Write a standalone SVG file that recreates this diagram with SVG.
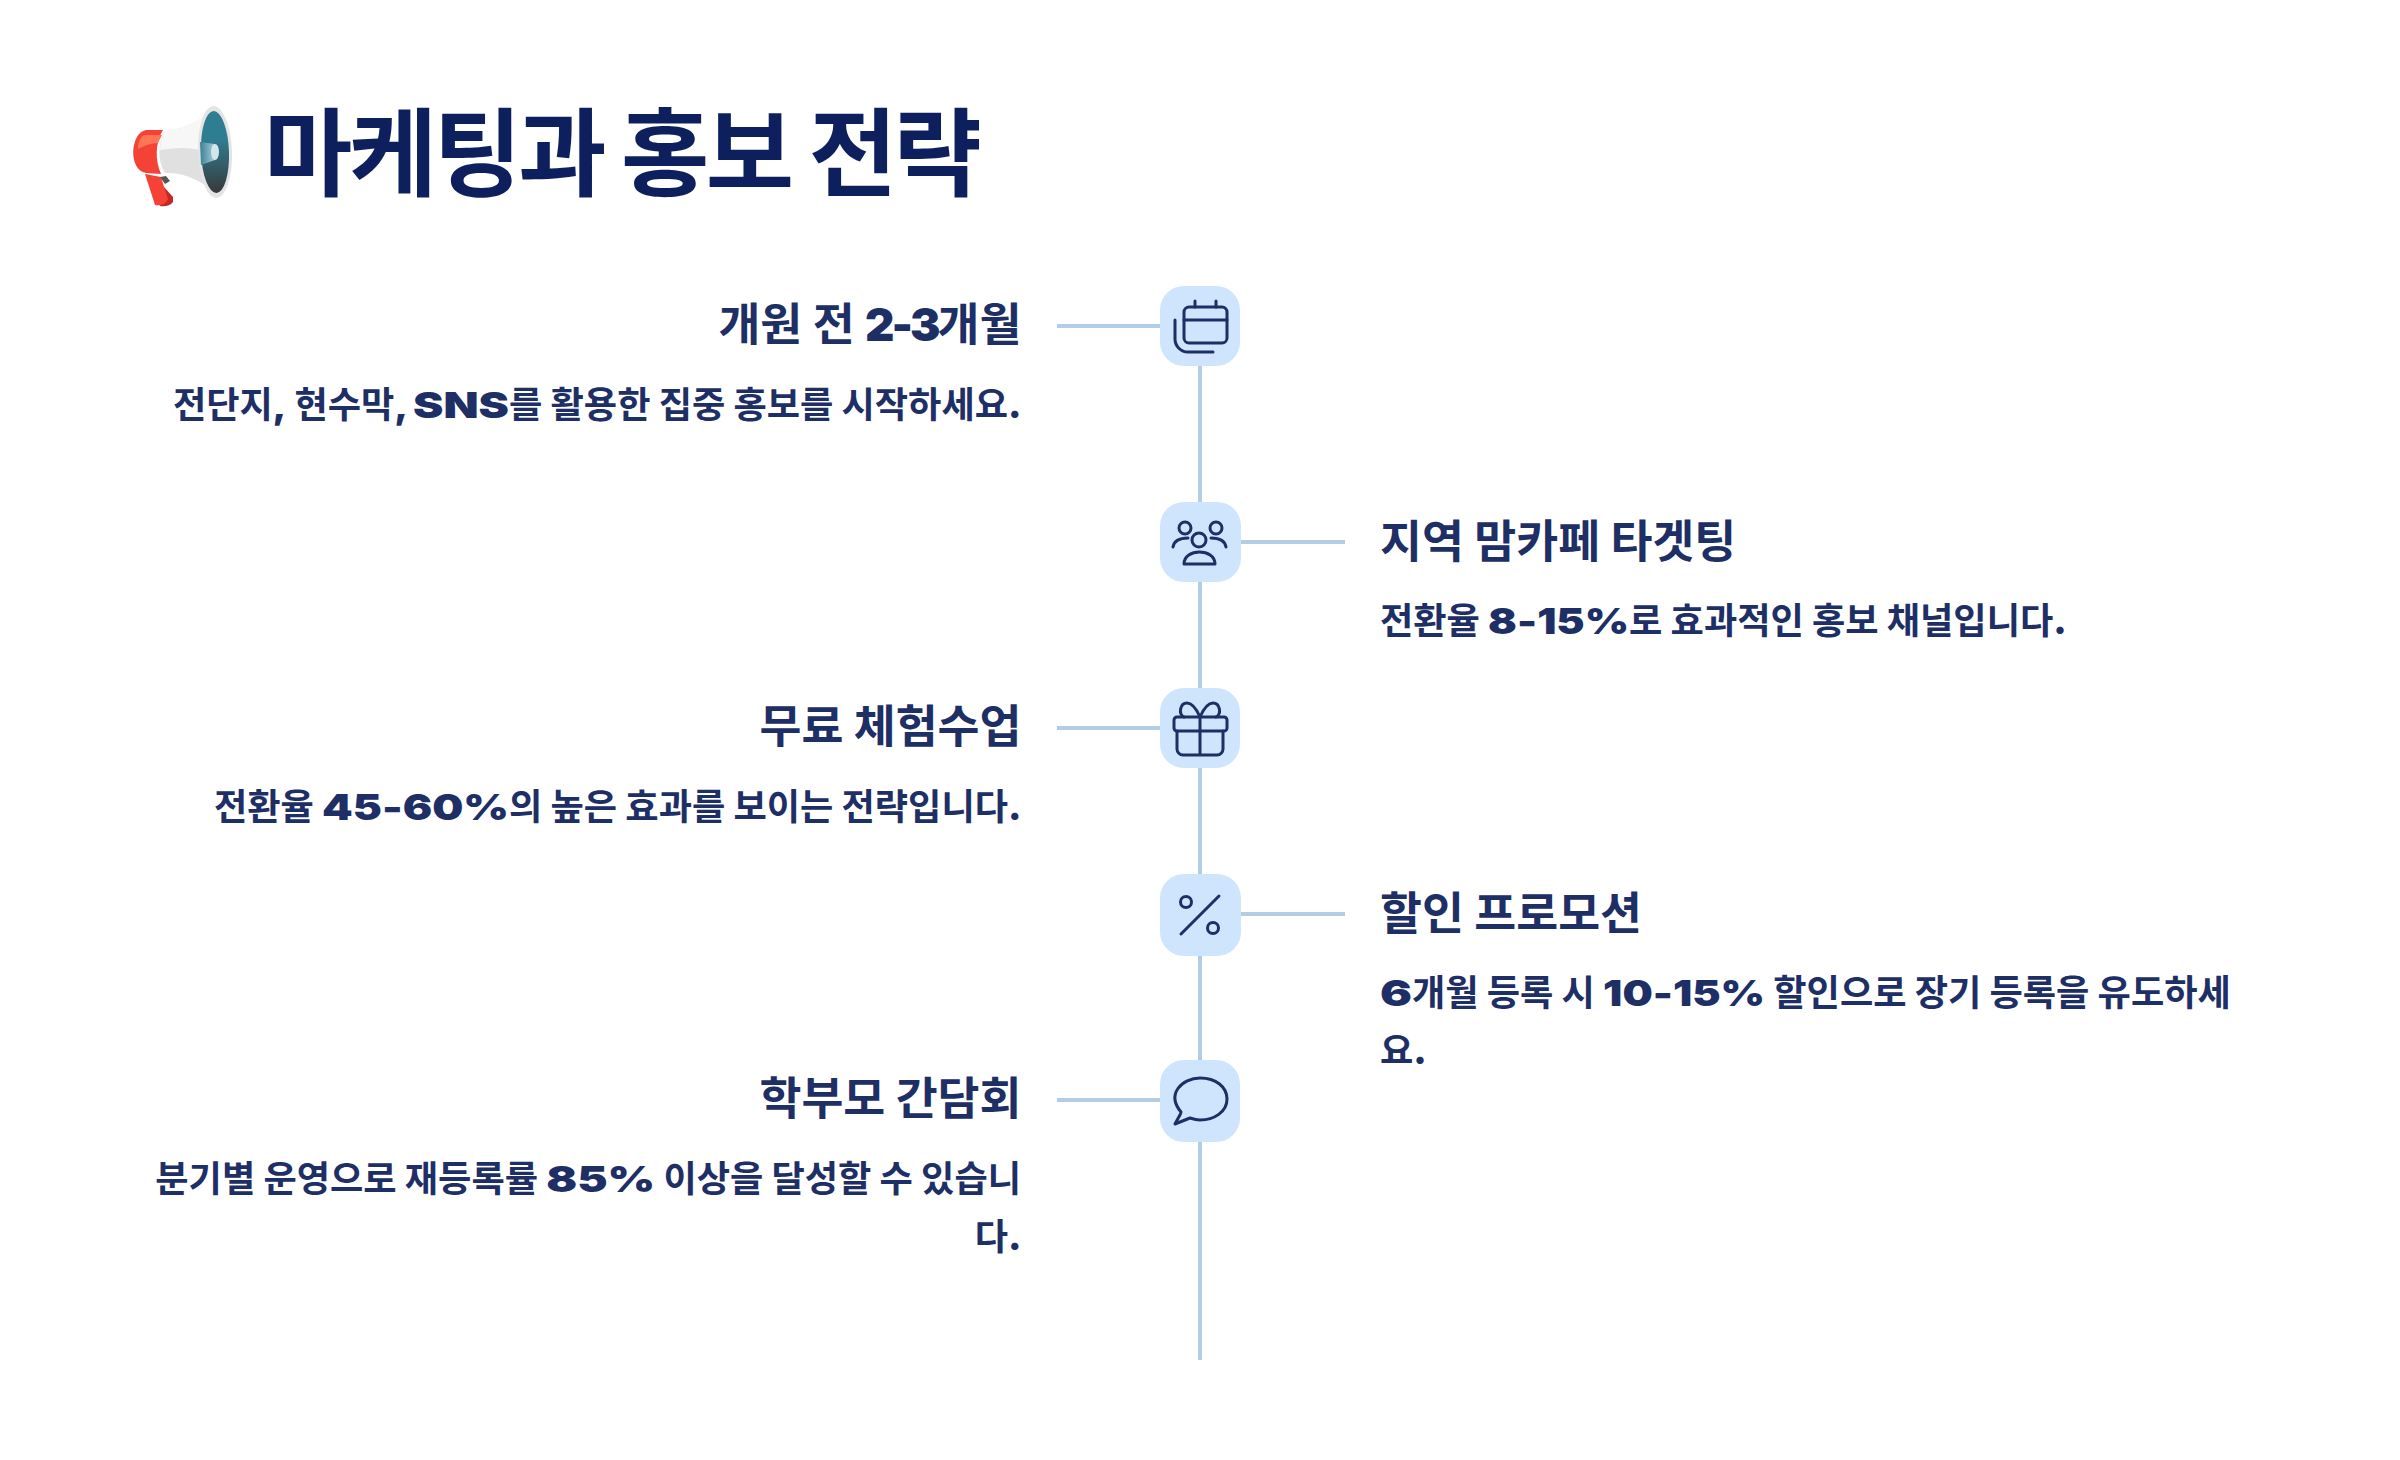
<svg xmlns="http://www.w3.org/2000/svg" width="2400" height="1460" viewBox="0 0 2400 1460">
<defs>
<style>
text{font-family:"Noto Sans CJK KR","Noto Sans",sans-serif;font-weight:700;fill:#1e2f66}
.t{font-size:96px;fill:#0d1f5c;letter-spacing:-3.6px}
.h{font-size:45.6px}
.b{font-size:36.2px}
.e{text-anchor:end}
.l{font-family:"Inter","Liberation Sans",sans-serif;font-weight:900}
.c{fill:none;stroke:#b3cde6;stroke-width:4}
.n{fill:#cfe5fd}
.i{fill:none;stroke:#1e2f66;stroke-width:3;stroke-linecap:round;stroke-linejoin:round}
</style>
<linearGradient id="tl" x1="0" y1="0" x2="0" y2="1"><stop offset="0.35" stop-color="#2f7d91"/><stop offset="1" stop-color="#37393b"/></linearGradient>
<linearGradient id="bm" x1="1" y1="0" x2="0" y2="0"><stop offset="0" stop-color="#a8cdd9"/><stop offset="1" stop-color="#3b8296"/></linearGradient>
</defs>
<rect width="2400" height="1460" fill="#fff"/>
<g id="title">
<g id="megaphone">
<path d="M156 186 L164 187 L173 197 L173 202 C170 206 165 207 160 206 Z" fill="#c62828"/>
<path d="M145 174 L161 177 L164 187 L168 199 C165 205 160 206 155 205 Z" fill="#f44336"/>
<path d="M160 177 L166 176 L170 181 L165 184 Z" fill="#555"/>
<path d="M165 131 C180 130 192 124 205 116 L210 188 C195 178 180 172 165 173 C157 160 158 143 165 131Z" fill="#e0e0e0"/>
<path d="M165 131 C180 130 192 124 205 116 L206 152 C190 146 175 148 160 150 C160 143 162 137 165 131Z" fill="#f7f7f7"/>
<path d="M163 130 L146 130 C130 133 128 170 146 173 L161 174 C155 160 155 143 163 130Z" fill="#f44336"/>
<path d="M162 135 L144 135 C139 139 138 144 138 149 C145 145 152 143 158 143 Z" fill="#ff7555"/>
<ellipse cx="215" cy="152" rx="17" ry="46" fill="#e4e4e4" transform="rotate(-2 215 152)"/>
<ellipse cx="215" cy="152" rx="14" ry="41" fill="url(#tl)" transform="rotate(-2 215 152)"/>
<path d="M200 142 L215 144 L215 160 L201 165Z" fill="url(#bm)"/>
<ellipse cx="215" cy="152" rx="4" ry="8" fill="#d3e6ec"/>
</g>
<text class="t" x="264" y="188">마케팅과 홍보 전략</text>
</g>
<g id="connectors">
<line class="c" x1="1200" y1="326" x2="1200" y2="1360"/>
<line class="c" x1="1057" y1="326" x2="1200" y2="326"/>
<line class="c" x1="1200" y1="542" x2="1345" y2="542"/>
<line class="c" x1="1057" y1="728" x2="1200" y2="728"/>
<line class="c" x1="1200" y1="914" x2="1345" y2="914"/>
<line class="c" x1="1057" y1="1100" x2="1200" y2="1100"/>
</g>
<g id="node-1">
<rect class="n" x="1160" y="286" width="80" height="80" rx="24"/>
<rect class="i" x="1184" y="307" width="43" height="36" rx="5"/>
<path class="i" d="M1184 320H1227M1195 301V307M1216 301V307M1175 320V339A13 13 0 0 0 1188 352H1213"/>
<text class="h e" x="1021.5" y="341">개원 전 <tspan class="l" letter-spacing="-3">2-3</tspan>개월</text>
<text class="b e" x="1021.5" y="418">전단지<tspan class="l">,</tspan> 현수막<tspan class="l">, </tspan><tspan class="l" textLength="96" lengthAdjust="spacingAndGlyphs">SNS</tspan>를 활용한 집중 홍보를 시작하세요<tspan class="l">.</tspan></text>
</g>
<g id="node-2">
<rect class="n" x="1160" y="502" width="81" height="80" rx="24"/>
<circle class="i" cx="1199" cy="540" r="7"/><circle class="i" cx="1185" cy="528" r="6"/><circle class="i" cx="1216" cy="528" r="6"/>
<path class="i" d="M1184 564C1184 548 1215 548 1215 564Z"/>
<path class="i" d="M1173 547C1174 541 1180 538 1188 538M1226 547C1225 541 1219 538 1211 538"/>
<text class="h" x="1380" y="558">지역 맘카페 타겟팅</text>
<text class="b" x="1380" y="634">전환율 <tspan class="l" textLength="141" lengthAdjust="spacingAndGlyphs">8-15%</tspan>로 효과적인 홍보 채널입니다<tspan class="l">.</tspan></text>
</g>
<g id="node-3">
<rect class="n" x="1160" y="688" width="80" height="80" rx="24"/>
<rect class="i" x="1174" y="717" width="53" height="14" rx="3"/>
<path class="i" d="M1177 731V749A6 6 0 0 0 1183 755H1217A6 6 0 0 0 1223 749V731M1200 717V755"/>
<path class="i" d="M1200 717C1196 708 1191 703 1187 703C1180 703 1178 714 1184 717M1200 717C1204 708 1209 703 1213 703C1220 703 1222 714 1216 717"/>
<text class="h e" x="1021.5" y="743">무료 체험수업</text>
<text class="b e" x="1021.5" y="820">전환율 <tspan class="l" textLength="187" lengthAdjust="spacingAndGlyphs">45-60%</tspan>의 높은 효과를 보이는 전략입니다<tspan class="l">.</tspan></text>
</g>
<g id="node-4">
<rect class="n" x="1160" y="874" width="81" height="82" rx="24"/>
<path class="i" d="M1219 896L1181 934"/><circle class="i" cx="1186" cy="902" r="5.5"/><circle class="i" cx="1213" cy="928" r="5.5"/>
<text class="h" x="1380" y="930">할인 프로모션</text>
<text class="b" x="1380" y="1006"><tspan class="l" textLength="32" lengthAdjust="spacingAndGlyphs">6</tspan>개월 등록 시 <tspan class="l" textLength="162" lengthAdjust="spacingAndGlyphs">10-15%</tspan> 할인으로 장기 등록을 유도하세</text>
<text class="b" x="1380" y="1064">요<tspan class="l">.</tspan></text>
</g>
<g id="node-5">
<rect class="n" x="1160" y="1060" width="80" height="82" rx="24"/>
<path class="i" d="M1190 1118L1175 1124C1178 1118 1181 1114 1181 1112C1166 1094 1182 1078 1200 1078C1216 1078 1227 1087 1227 1099C1227 1112 1214 1120 1200 1120C1196 1120 1193 1119 1190 1118Z"/>
<text class="h e" x="1021.5" y="1115">학부모 간담회</text>
<text class="b e" x="1021" y="1192">분기별 운영으로 재등록률 <tspan class="l" textLength="109" lengthAdjust="spacingAndGlyphs">85%</tspan> 이상을 달성할 수 있습니</text>
<text class="b e" x="1021.5" y="1250">다<tspan class="l">.</tspan></text>
</g>
</svg>
